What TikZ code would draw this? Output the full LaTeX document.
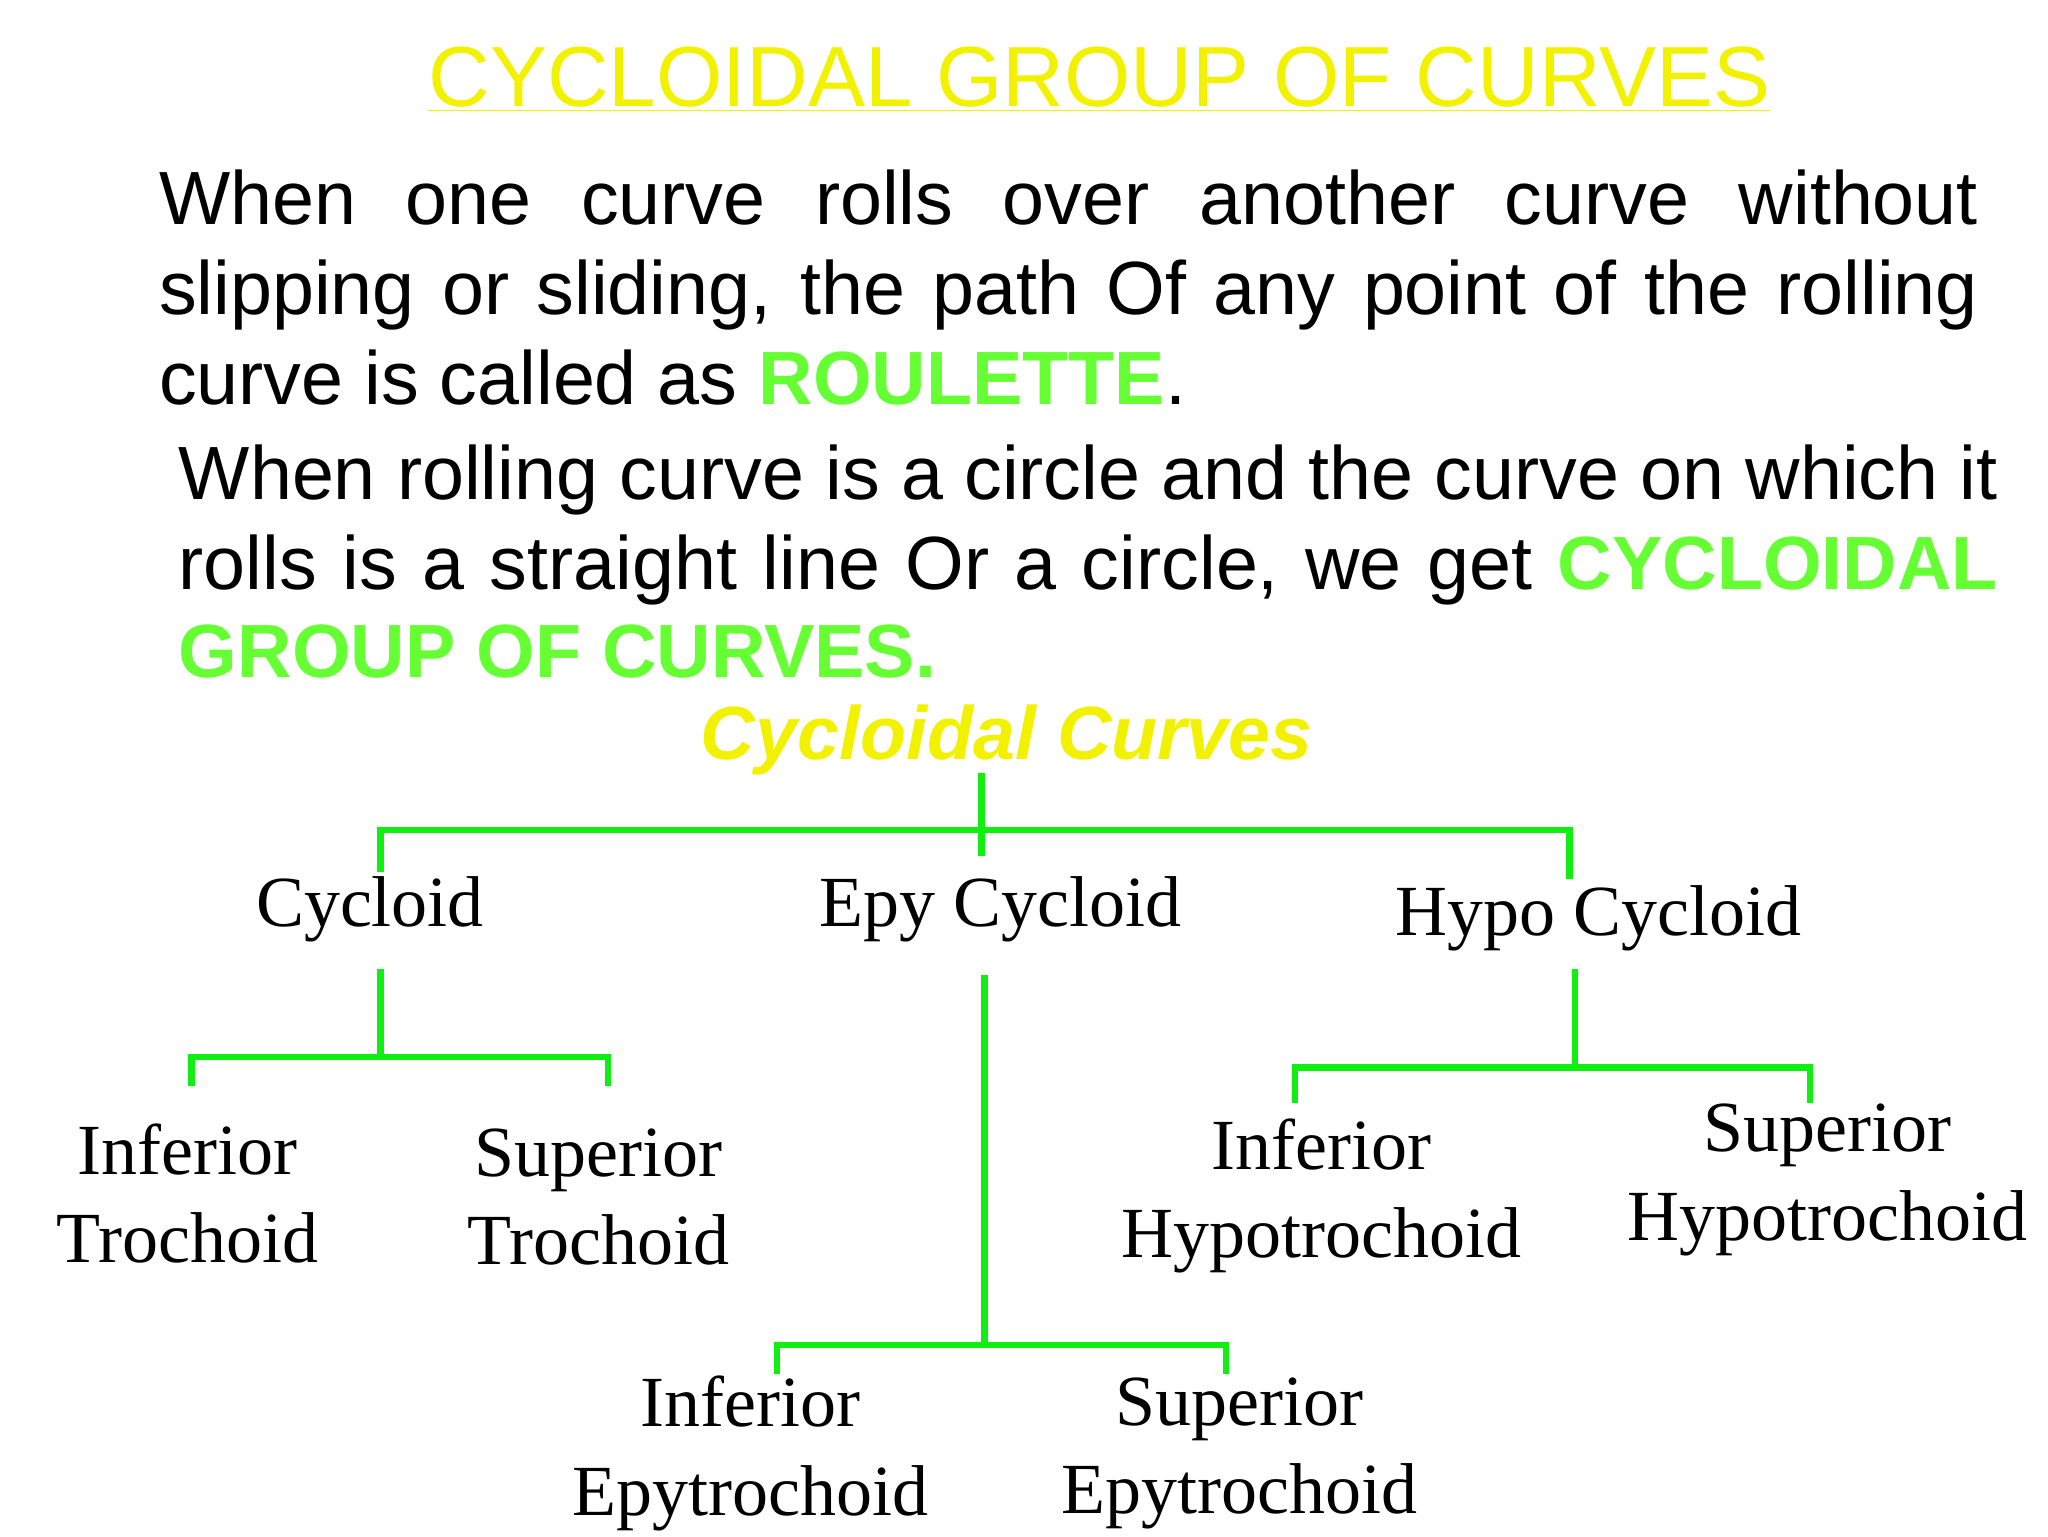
\documentclass[tikz,border=0pt]{standalone}
\usepackage{fontspec}
\setmainfont{Liberation Sans}
\newfontfamily\tnr{Liberation Serif}
\definecolor{lgreen}{HTML}{66FF33}
\definecolor{tgreen}{HTML}{11EE11}
\definecolor{ttl}{HTML}{F2F200}
\begin{document}
\begin{tikzpicture}[x=0.02cm,y=-0.02cm,
  para/.style={anchor=base west,inner sep=0pt,font=\fontsize{32.5}{38}\selectfont},
  leaf/.style={align=center,font=\tnr\fontsize{31}{38}\selectfont,inner sep=0pt},
  tree/.style={tgreen,line width=2.8pt}]
\useasboundingbox (0,0) rectangle (1550,1162.5);
\node[font=\fontsize{36.8}{40}\selectfont,text=ttl,inner sep=0pt] (title) at (832,60) {\underline{CYCLOIDAL GROUP OF CURVES}};
\node[para] (l1) at (120,170) {\makebox[27.54cm][s]{When one curve rolls over another curve without}};
\node[para] (l2) at (120,238) {\makebox[27.54cm][s]{slipping or sliding, the path Of any point of the rolling}};
\node[para] (l3) at (120,306) {curve is called as \textcolor{lgreen}{\bfseries ROULETTE}.};
\node[para] (l4) at (135,378) {\makebox[27.54cm][s]{When rolling curve is a circle and the curve on which it}};
\node[para] (l5) at (135,446) {\makebox[27.54cm][s]{rolls is a straight line Or a circle, we get \textcolor{lgreen}{\bfseries CYCLOIDAL}}};
\node[para] (l6) at (135,513) {\textcolor{lgreen}{\bfseries GROUP OF CURVES.}};
\node[font=\bfseries\itshape\fontsize{32.5}{36}\selectfont,text=ttl,inner sep=0pt] (cc) at (762,560) {Cycloidal Curves};
\node[leaf] (cy) at (280,688) {Cycloid};
\node[leaf] (ep) at (757,688) {Epy Cycloid};
\node[leaf] (hy) at (1210,695) {Hypo Cycloid};
\node[leaf] (it) at (142,903) {Inferior\\Trochoid};
\node[leaf] (st) at (453,906) {Superior\\Trochoid};
\node[leaf] (ie) at (568,1100) {Inferior\\Epytrochoid};
\node[leaf] (se) at (938,1100) {Superior\\Epytrochoid};
\node[leaf] (ih) at (1000,905) {Inferior\\Hypotrochoid};
\node[leaf] (sh) at (1383,893) {Superior\\Hypotrochoid};
\draw[tree] (743,585) coordinate (a0) -- (743,648);
\draw[tree] (288,660) coordinate (a1) -- (288,628) -- (1188,628) -- (1188,665) coordinate (a2);
\draw[tree] (288,733) coordinate (b0) -- (288,800);
\draw[tree] (145,822) coordinate (b1) -- (145,800) -- (460,800) -- (460,822) coordinate (b2);
\draw[tree] (745,738) coordinate (c0) -- (745,1018);
\draw[tree] (588,1040) coordinate (c1) -- (588,1018) -- (928,1018) -- (928,1040) coordinate (c2);
\draw[tree] (1192,733) coordinate (d0) -- (1192,808);
\draw[tree] (980,835) coordinate (d1) -- (980,808) -- (1370,808) -- (1370,835) coordinate (d2);
\end{tikzpicture}
\end{document}
